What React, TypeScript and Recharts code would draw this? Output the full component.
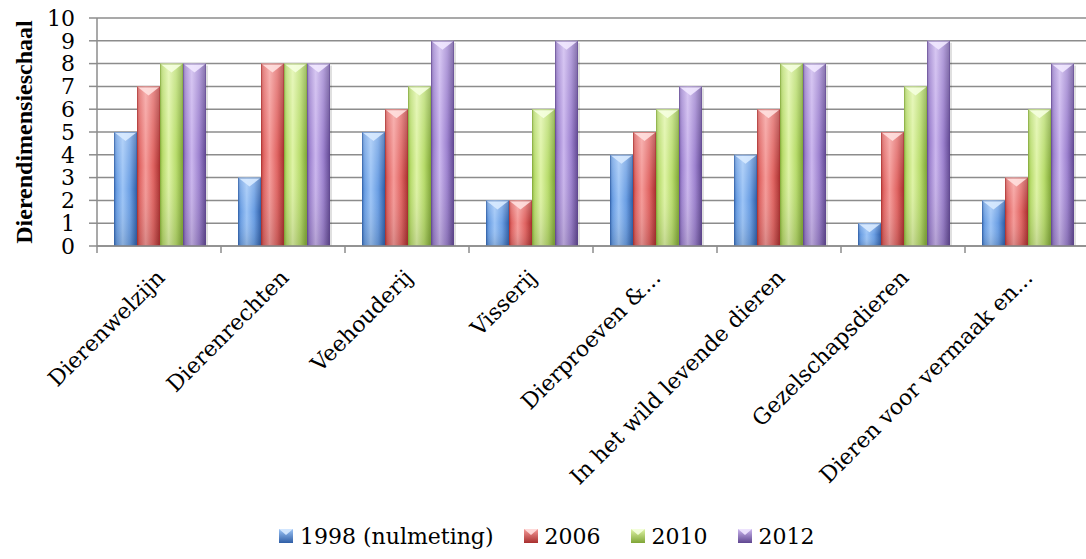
import React from "react";
import { BarChart, Bar, XAxis, YAxis, CartesianGrid, Legend } from "recharts";

const categories = [
  "Dierenwelzijn",
  "Dierenrechten",
  "Veehouderij",
  "Visserij",
  "Dierproeven &...",
  "In het wild levende dieren",
  "Gezelschapsdieren",
  "Dieren voor vermaak en...",
];
const seriesNames = ["1998 (nulmeting)", "2006", "2010", "2012"];
const s1998 = [5, 3, 5, 2, 4, 4, 1, 2];
const s2006 = [7, 8, 6, 2, 5, 6, 5, 3];
const s2010 = [8, 8, 7, 6, 6, 8, 7, 6];
const s2012 = [8, 8, 9, 9, 7, 8, 9, 8];
const yTicks = [0, 1, 2, 3, 4, 5, 6, 7, 8, 9, 10];

const seriesValues = [s1998, s2006, s2010, s2012];
const keys = ["s0", "s1", "s2", "s3"];

const data = categories.map((name, i) => {
  const row: Record<string, any> = { name };
  keys.forEach((k, j) => (row[k] = seriesValues[j][i]));
  return row;
});

// [edge dark, light, mid, right dark, top highlight]
const palettes = [
  ["#3a6db5", "#9cc4f6", "#6a9ee3", "#2f5ea6", "#d8eaff"],
  ["#b83a38", "#f59a98", "#e06563", "#a82f2e", "#ffe0df"],
  ["#8db33f", "#dff4a6", "#b8dc6c", "#7fa536", "#f5ffe0"],
  ["#6f54a0", "#cbb6ee", "#9d82cf", "#5f4690", "#f1e8ff"],
];

const W = 1090;
const H = 559;
const LEFT = 97;
const RIGHT_M = 1;
const BAND_HALF = (W - RIGHT_M - LEFT) / categories.length / 2;
const FONT = "'DejaVu Serif', serif";
const GRID = "#8c8c8c";

const GlossBar = (props: any) => {
  const { x, y, width, height, idx } = props;
  if (!height || height <= 0) return null;
  const p = palettes[idx];
  const tri = Math.min(9, height / 2);
  return (
    <g>
      <rect x={x + 2} y={y + 2} width={width} height={height - 2} fill="#000" opacity={0.12} />
      <rect x={x} y={y} width={width} height={height} fill={`url(#hg${idx})`} />
      <rect x={x} y={y} width={width} height={height} fill="url(#vshade)" />
      <polygon
        points={`${x},${y} ${x + width},${y} ${x + width / 2},${y + tri}`}
        fill={p[4]}
        opacity={0.9}
      />
      <rect x={x + 0.5} y={y + 0.5} width={width - 1} height={height - 1} fill="none" stroke={p[3]} strokeOpacity={0.5} />
    </g>
  );
};

const XTick = (props: any) => {
  const { x, y, payload } = props;
  const tx = x + 7;
  const ty = y + 33;
  return (
    <g>
      <line x1={x - BAND_HALF} y1={y} x2={x - BAND_HALF} y2={y + 7} stroke={GRID} strokeWidth={1.5} />
      <text
        x={tx}
        y={ty}
        textAnchor="end"
        transform={`rotate(-45, ${tx}, ${ty})`}
        fontFamily={FONT}
        fontSize={22}
        fill="#000"
      >
        {payload.value}
      </text>
    </g>
  );
};

const LegendIcon = ({ idx }: { idx: number }) => {
  const p = palettes[idx];
  return (
    <svg width={14} height={14} style={{ display: "block" }}>
      <defs>
        <linearGradient id={`lg${idx}`} x1="0" y1="0" x2="0" y2="1">
          <stop offset="0%" stopColor={p[1]} />
          <stop offset="100%" stopColor={p[3]} />
        </linearGradient>
      </defs>
      <rect x={0} y={0} width={14} height={14} fill={`url(#lg${idx})`} />
      <polygon points="0,0 14,0 7,6" fill={p[4]} opacity={0.9} />
    </svg>
  );
};

const LegendContent = () => (
  <div
    style={{
      height: 46,
      display: "flex",
      alignItems: "center",
      paddingLeft: 279,
      fontFamily: FONT,
      fontSize: 22,
      color: "#000",
      boxSizing: "border-box",
    }}
  >
    {seriesNames.map((n, i) => (
      <div key={n} style={{ display: "flex", alignItems: "center", marginRight: 30 }}>
        <LegendIcon idx={i} />
        <span style={{ marginLeft: 7, whiteSpace: "nowrap" }}>{n}</span>
      </div>
    ))}
  </div>
);

const YLabel = (props: any) => {
  const { viewBox } = props;
  const cy = viewBox.y + viewBox.height / 2;
  const cx = 32;
  return (
    <text
      x={cx}
      y={cy}
      textAnchor="middle"
      transform={`rotate(-90, ${cx}, ${cy})`}
      fontFamily="'Liberation Serif', serif"
      fontWeight="bold"
      fontSize={24}
      fill="#000"
    >
      Dierendimensieschaal
    </text>
  );
};

export default function App() {
  return (
    <div style={{ position: "absolute", left: 0, top: 0, width: 1086, height: 559, overflow: "hidden", background: "#fff" }}>
      <BarChart
        width={W}
        height={H}
        data={data}
        margin={{ top: 18, right: RIGHT_M, left: 0, bottom: 0 }}
        barCategoryGap={17}
        barGap={0}
      >
        <defs>
          {palettes.map((p, i) => (
            <linearGradient key={i} id={`hg${i}`} x1="0" y1="0" x2="1" y2="0">
              <stop offset="0%" stopColor={p[0]} />
              <stop offset="12%" stopColor={p[2]} />
              <stop offset="38%" stopColor={p[1]} />
              <stop offset="70%" stopColor={p[2]} />
              <stop offset="100%" stopColor={p[3]} />
            </linearGradient>
          ))}
          <linearGradient id="vshade" x1="0" y1="0" x2="0" y2="1">
            <stop offset="0%" stopColor="#fff" stopOpacity={0.25} />
            <stop offset="50%" stopColor="#fff" stopOpacity={0} />
            <stop offset="100%" stopColor="#000" stopOpacity={0.12} />
          </linearGradient>
        </defs>
        <CartesianGrid vertical={false} stroke={GRID} strokeWidth={1.5} />
        <XAxis
          dataKey="name"
          interval={0}
          height={267}
          tickLine={false}
          tickSize={0}
          tickMargin={0}
          axisLine={{ stroke: GRID, strokeWidth: 1.5 }}
          tick={<XTick />}
        />
        <YAxis
          width={LEFT}
          domain={[0, 10]}
          ticks={yTicks}
          interval={0}
          tickSize={8}
          tickMargin={14}
          axisLine={{ stroke: GRID, strokeWidth: 1.5 }}
          tickLine={{ stroke: GRID, strokeWidth: 1.5 }}
          tick={{ fontFamily: FONT, fontSize: 22, fill: "#000" }}
          label={<YLabel />}
        />
        <Legend verticalAlign="bottom" content={<LegendContent />} wrapperStyle={{ left: 0, width: W }} />
        {keys.map((k, i) => (
          <Bar
            key={k}
            dataKey={k}
            name={seriesNames[i]}
            isAnimationActive={false}
            shape={(p: any) => <GlossBar {...p} idx={i} />}
          />
        ))}
      </BarChart>
    </div>
  );
}
